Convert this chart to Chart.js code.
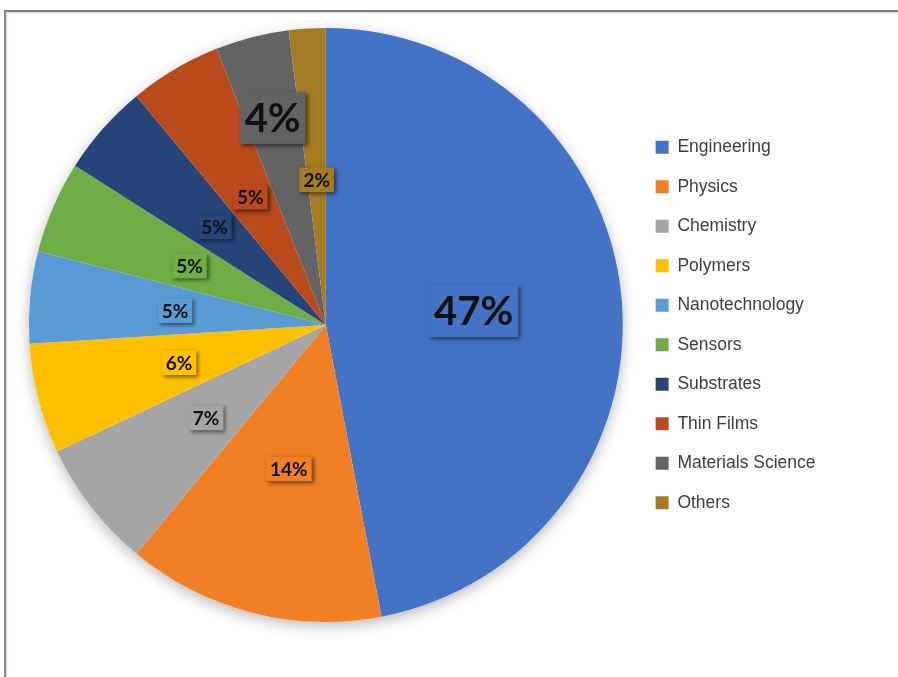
<!DOCTYPE html>
<html>
<head>
<meta charset="utf-8">
<script src="https://cdn.jsdelivr.net/npm/chart.js@4.4.1/dist/chart.umd.min.js"></script>
<style>
  html, body { margin: 0; padding: 0; background: #fff; }
  #wrap { position: relative; width: 898px; height: 677px; overflow: hidden; }
  #frame {
    position: absolute; left: 4px; top: 10px; width: 1000px; height: 800px;
    border-top: 2px solid #7d7d7d; border-left: 2px solid #8a8a8a;
    box-shadow: inset 1px 1px 2px rgba(0,0,0,0.15);
  }
  #box { position: absolute; left: 0; top: 0; width: 898px; height: 677px; }
</style>
</head>
<body>
<div id="wrap">
  <div id="frame"></div>
  <div id="box"><canvas id="pieChart"></canvas></div>
</div>
<script>
var fields = ["Engineering", "Physics", "Chemistry", "Polymers", "Nanotechnology",
              "Sensors", "Substrates", "Thin Films", "Materials Science", "Others"];
var shares = [47, 14, 7, 6, 5, 5, 5, 5, 4, 2];
var sliceColors = ["#4472C4", "#F07F26", "#A5A5A5", "#FFC000", "#5B9BD5",
                   "#70AD47", "#264478", "#B84A1C", "#636363", "#A37C25"];
// how far out each label sits (fraction of radius) and its font size
var labelRadius = [0.5, 0.5, 0.51, 0.51, 0.51, 0.5, 0.5, 0.5, 0.72, 0.49];
var labelSize = [40, 19, 19, 19, 19, 19, 19, 19, 40, 19];

// soft halo under the whole pie
var pieShadow = {
  id: 'pieShadow',
  beforeDatasetsDraw: function (chart) {
    var arc = chart.getDatasetMeta(0).data[0];
    if (!arc) return;
    var ctx = chart.ctx;
    ctx.save();
    ctx.shadowColor = 'rgba(0,0,0,0.28)';
    ctx.shadowBlur = 14;
    ctx.shadowOffsetY = 4;
    ctx.fillStyle = '#fff';
    ctx.beginPath();
    ctx.arc(arc.x, arc.y, arc.outerRadius, 0, Math.PI * 2);
    ctx.fill();
    ctx.restore();
  }
};

// percent labels in little shadowed boxes
var percentLabels = {
  id: 'percentLabels',
  afterDatasetsDraw: function (chart) {
    var ctx = chart.ctx;
    var meta = chart.getDatasetMeta(0);
    meta.data.forEach(function (arc, i) {
      var p = arc.getProps(['x', 'y', 'startAngle', 'endAngle', 'outerRadius'], true);
      var mid = (p.startAngle + p.endAngle) / 2;
      var r = p.outerRadius * labelRadius[i];
      var x = p.x + Math.cos(mid) * r;
      var y = p.y + Math.sin(mid) * r;
      var text = shares[i] + '%';
      var size = labelSize[i];
      ctx.save();
      ctx.font = 'bold ' + size + 'px Lato';
      var w = ctx.measureText(text).width;
      var padX = size > 30 ? 5 : 4;
      var bw = w + padX * 2;
      var bh = size * 1.3;
      ctx.shadowColor = 'rgba(0,0,0,0.55)';
      ctx.shadowBlur = 4;
      ctx.shadowOffsetX = 2;
      ctx.shadowOffsetY = 2;
      ctx.fillStyle = sliceColors[i];
      ctx.fillRect(x - bw / 2, y - bh / 2, bw, bh);
      ctx.shadowColor = 'transparent';
      ctx.fillStyle = '#111';
      ctx.textAlign = 'center';
      ctx.textBaseline = 'middle';
      ctx.fillText(text, x, y + 1);
      ctx.restore();
    });
  }
};

var chart = new Chart(document.getElementById('pieChart'), {
  type: 'pie',
  data: {
    labels: fields,
    datasets: [{
      data: shares,
      backgroundColor: sliceColors,
      borderWidth: 0
    }]
  },
  options: {
    responsive: true,
    maintainAspectRatio: false,
    animation: false,
    layout: { padding: { left: 18, top: 28, bottom: 55, right: 72.5 } },
    plugins: {
      tooltip: { enabled: false },
      legend: {
        position: 'right',
        labels: {
          boxWidth: 13,
          boxHeight: 13,
          padding: 22,
          color: '#404040',
          font: { family: 'Liberation Sans', size: 17.5 }
        }
      }
    }
  },
  plugins: [pieShadow, percentLabels]
});
</script>
</body>
</html>
